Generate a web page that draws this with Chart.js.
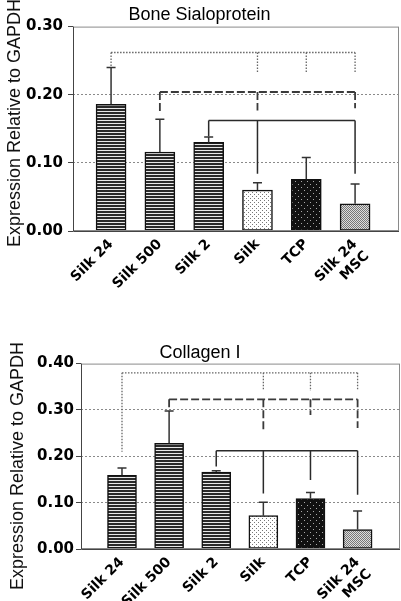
<!DOCTYPE html>
<html>
<head>
<meta charset="utf-8">
<script src="https://cdn.jsdelivr.net/npm/chart.js@4.4.1/dist/chart.umd.min.js"></script>
<style>
  body { margin: 0; background: #fff; }
  .box { position: absolute; left: 0; width: 401px; }
  #top { top: 0; height: 300px; }
  #bottom { top: 300px; height: 301px; }
</style>
</head>
<body>
<div class="box" id="top"><canvas id="bspChart"></canvas></div>
<div class="box" id="bottom"><canvas id="colChart"></canvas></div>
<script>
// groupes (axe x) communs aux deux graphiques
const groups = ['Silk 24', 'Silk 500', 'Silk 2', 'Silk', 'TCP', ['Silk 24', 'MSC']];

// Bone Sialoprotein
const bspMeans = [0.186, 0.116, 0.130, 0.060, 0.076, 0.040];
const bspErrTops = [0.240, 0.164, 0.138, 0.071, 0.108, 0.069];
const bspTicks = [0, 0.1, 0.2, 0.3];
const bspDotted = { level: 0.262, legs: [[0, 0.240], [3, 0.233], [4, 0.233], [5, 0.233]] };
const bspDashed = { level: 0.204, legs: [[1, 0.173], [3, 0.177], [5, 0.180]] };
const bspSolid = { level: 0.162, legs: [[2, 0.139], [3, 0.084], [5, 0.084]] };

// Collagen I
const colMeans = [0.159, 0.228, 0.166, 0.072, 0.109, 0.042];
const colErrTops = [0.175, 0.298, 0.169, 0.101, 0.122, 0.082];
const colTicks = [0, 0.1, 0.2, 0.3, 0.4];
const colDotted = { level: 0.380, legs: [[0, 0.210], [3, 0.344], [4, 0.341], [5, 0.343]] };
const colDashed = { level: 0.323, legs: [[1, 0.300], [3, 0.253], [4, 0.289], [5, 0.261]] };
const colSolid = { level: 0.212, legs: [[2, 0.178], [3, 0.120], [4, 0.149], [5, 0.117]] };

const yTitle = 'Expression Relative to GAPDH';

// motifs de remplissage des barres
function makePattern(w, h, bg, dots) {
    const c = document.createElement('canvas');
    c.width = w; c.height = h;
    const g = c.getContext('2d');
    g.fillStyle = bg;
    g.fillRect(0, 0, w, h);
    dots.forEach(d => {
        g.fillStyle = d[4];
        g.fillRect(d[0], d[1], d[2], d[3]);
    });
    return g.createPattern(c, 'repeat');
}

const stripes = makePattern(1, 3, '#2a2a2a', [[0, 0, 1, 1, '#e8e8e8']]);
const whiteDots = makePattern(4, 4, '#ffffff', [[0, 0, 1, 1, '#777'], [2, 2, 1, 1, '#777']]);
const blackDots = makePattern(6, 6, '#111111', [[1, 1, 1, 1, '#aaa'], [4, 4, 1, 1, '#aaa']]);
const greyCheck = makePattern(2, 2, '#dddddd', [[0, 0, 1, 1, '#777'], [1, 1, 1, 1, '#777']]);
const barFills = [stripes, stripes, stripes, whiteDots, blackDots, greyCheck];

// barres d'erreur, crochets de significativité, cadre et titre de l'axe y
function overlay(errTops, brackets, titleX, titleY) {
    return {
        id: 'overlay',
        afterDatasetsDraw(chart) {
            const { ctx, chartArea: a, scales: { x, y } } = chart;
            const pts = chart.data.datasets[0].data;
            ctx.save();

            // cadre
            ctx.setLineDash([]);
            ctx.lineWidth = 1;
            ctx.strokeStyle = '#8a8a8a';
            ctx.strokeRect(a.left + 0.5, a.top + 0.5, a.width - 1, a.height - 1);
            ctx.strokeStyle = '#444';
            ctx.beginPath();
            ctx.moveTo(a.left + 0.5, a.top);
            ctx.lineTo(a.left + 0.5, a.bottom + 0.5);
            ctx.lineTo(a.right, a.bottom + 0.5);
            ctx.stroke();

            // barres d'erreur
            ctx.strokeStyle = '#333';
            ctx.lineWidth = 1.5;
            errTops.forEach((t, i) => {
                const px = x.getPixelForValue(i);
                const top = y.getPixelForValue(t);
                ctx.beginPath();
                ctx.moveTo(px, y.getPixelForValue(pts[i].y));
                ctx.lineTo(px, top);
                ctx.moveTo(px - 4.5, top);
                ctx.lineTo(px + 4.5, top);
                ctx.stroke();
            });

            // crochets
            brackets.forEach(b => {
                ctx.strokeStyle = b.color;
                ctx.lineWidth = b.width;
                ctx.setLineDash(b.dash);
                const lv = y.getPixelForValue(b.level);
                const first = x.getPixelForValue(b.legs[0][0]);
                const last = x.getPixelForValue(b.legs[b.legs.length - 1][0]);
                ctx.beginPath();
                ctx.moveTo(first, lv);
                ctx.lineTo(last, lv);
                b.legs.forEach(l => {
                    const px = x.getPixelForValue(l[0]);
                    ctx.moveTo(px, lv);
                    ctx.lineTo(px, y.getPixelForValue(l[1]));
                });
                ctx.stroke();
            });

            // titre de l'axe y
            ctx.setLineDash([]);
            ctx.translate(titleX, titleY);
            ctx.rotate(-Math.PI / 2);
            ctx.fillStyle = '#111';
            ctx.font = '18px "Liberation Sans", Arial, sans-serif';
            ctx.textAlign = 'center';
            ctx.textBaseline = 'alphabetic';
            ctx.fillText(yTitle, 0, 0);
            ctx.restore();
        }
    };
}

function bracketSet(dotted, dashed, solid) {
    return [
        Object.assign({ color: '#666', width: 1.3, dash: [1.5, 1.5] }, dotted),
        Object.assign({ color: '#3a3a3a', width: 1.8, dash: [8, 3] }, dashed),
        Object.assign({ color: '#2a2a2a', width: 1.5, dash: [] }, solid)
    ];
}

function buildChart(id, opt) {
    const ctx = document.getElementById(id).getContext('2d');
    return new Chart(ctx, {
        type: 'bar',
        data: {
            datasets: [{
                data: opt.means.map((v, i) => ({ x: i, y: v })),
                backgroundColor: barFills,
                borderColor: '#111',
                borderWidth: 1.5,
                borderSkipped: false,
                barThickness: opt.barW
            }]
        },
        options: {
            responsive: true,
            maintainAspectRatio: false,
            animation: false,
            layout: { padding: { right: opt.padRight } },
            plugins: {
                legend: { display: false },
                tooltip: { enabled: false },
                title: {
                    display: true,
                    text: opt.title,
                    color: '#000',
                    font: { family: '"Liberation Sans", Arial, sans-serif', size: 18, weight: 'normal' },
                    padding: opt.titlePad
                }
            },
            scales: {
                x: {
                    type: 'linear',
                    offset: false,
                    min: opt.xMin,
                    max: opt.xMax,
                    grid: { display: false, drawTicks: false },
                    border: { display: false },
                    afterBuildTicks: s => { s.ticks = groups.map((g, i) => ({ value: i })); },
                    afterFit: s => { s.height = opt.xHeight; },
                    ticks: {
                        autoSkip: false,
                        minRotation: 45,
                        maxRotation: 45,
                        padding: 5,
                        color: '#000',
                        font: { family: '"DejaVu Sans", sans-serif', size: 14, weight: 'bold' },
                        callback: v => groups[v]
                    }
                },
                y: {
                    min: 0,
                    max: opt.ticks[opt.ticks.length - 1],
                    afterBuildTicks: s => { s.ticks = opt.ticks.map(v => ({ value: v })); },
                    afterFit: s => { s.width = opt.yWidth; },
                    grid: {
                        color: c => (c.tick && c.tick.value > 0 && c.tick.value < opt.ticks[opt.ticks.length - 1]) ? '#8a8a8a' : 'rgba(0,0,0,0)',
                        lineWidth: 1,
                        tickColor: '#444',
                        tickLength: 5,
                        tickBorderDash: []
                    },
                    border: { display: false, dash: [2, 2] },
                    ticks: {
                        padding: opt.tickPad,
                        color: '#000',
                        font: { family: '"DejaVu Sans", sans-serif', size: 15, weight: 'bold' },
                        callback: v => v.toFixed(2)
                    }
                }
            }
        },
        plugins: [overlay(opt.errTops, opt.brackets, opt.titleX, opt.titleY)]
    });
}

document.addEventListener('DOMContentLoaded', () => {
    buildChart('bspChart', {
        means: bspMeans, errTops: bspErrTops, ticks: bspTicks,
        brackets: bracketSet(bspDotted, bspDashed, bspSolid),
        title: 'Bone Sialoprotein', titlePad: { top: 4, bottom: 1 },
        xMin: -0.78, xMax: 5.9, barW: 30, padRight: 2,
        yWidth: 73, xHeight: 69, tickPad: 5,
        titleX: 20, titleY: 123
    });
    buildChart('colChart', {
        means: colMeans, errTops: colErrTops, ticks: colTicks,
        brackets: bracketSet(colDotted, colDashed, colSolid),
        title: 'Collagen I', titlePad: { top: 42, bottom: 0 },
        xMin: -0.87, xMax: 5.9, barW: 29, padRight: 1,
        yWidth: 81, xHeight: 52, tickPad: 2,
        titleX: 23, titleY: 166
    });
});
</script>
</body>
</html>
